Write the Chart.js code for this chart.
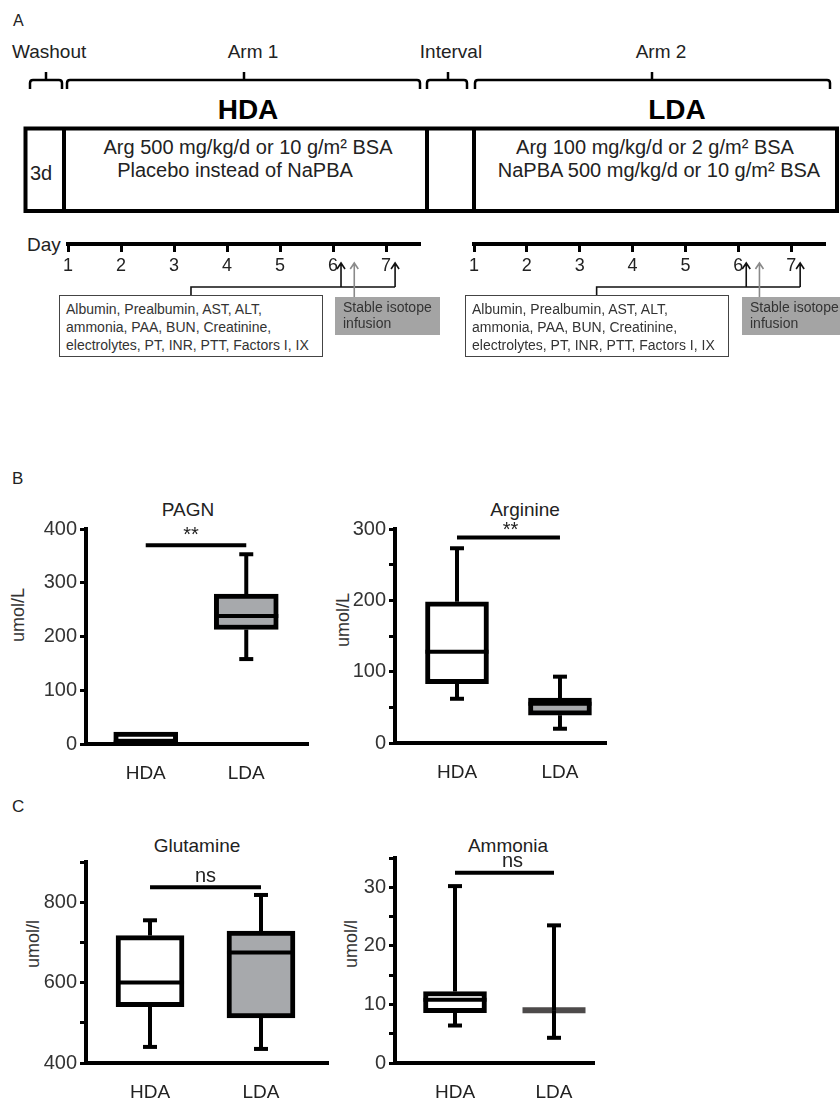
<!DOCTYPE html>
<html><head><meta charset="utf-8">
<script src="https://cdn.jsdelivr.net/npm/chart.js@4.4.1/dist/chart.umd.min.js"></script>
<style>
html,body{margin:0;padding:0;background:#fff;}
#root{position:relative;width:840px;height:1100px;overflow:hidden;font-family:"Liberation Sans",Arial,sans-serif;color:#222;}
.t{position:absolute;white-space:nowrap;line-height:1;transform:translate(-50%,-50%);}
.l{position:absolute;white-space:nowrap;line-height:1;transform:translateY(-50%);}
.rot{position:absolute;white-space:nowrap;line-height:1;transform:translate(-50%,-50%) rotate(-90deg);font-size:18px;color:#333;}
canvas{position:absolute;}
.box{position:absolute;box-sizing:border-box;border:1.5px solid #444;font-size:14px;line-height:18px;color:#333;padding:4px 0 0 6px;white-space:nowrap;background:#fff;}
.grey{position:absolute;box-sizing:border-box;background:#a4a4a4;font-size:14px;line-height:16px;color:#333;padding:2px 0 0 8px;white-space:nowrap;}
</style></head>
<body><div id="root">
<svg style="position:absolute;left:0;top:0" width="840" height="230">
  <g fill="none" stroke="#000" stroke-width="2.5">
    <path d="M30,89 L30,83 Q30,80 33,80 L59,80 Q62,80 62,83 L62,89 M46,80 L46,72"/>
    <path d="M67,89 L67,83 Q67,80 70,80 L417,80 Q420,80 420,83 L420,89 M244,80 L244,72"/>
    <path d="M427,89 L427,83 Q427,80 430,80 L464,80 Q467,80 467,83 L467,89 M448,80 L448,72"/>
    <path d="M475,89 L475,83 Q475,80 478,80 L827,80 Q830,80 830,83 L830,89 M652,80 L652,72"/>
  </g>
  <g fill="none" stroke="#000" stroke-width="4">
    <rect x="25.5" y="128.5" width="811.5" height="82.5"/>
    <line x1="64" y1="128.5" x2="64" y2="211"/>
    <line x1="427" y1="128.5" x2="427" y2="211"/>
    <line x1="474" y1="128.5" x2="474" y2="211"/>
  </g>
</svg>
<div class="l" style="left:13px;top:21px;font-size:16px;">A</div>
<div class="l" style="left:12px;top:51px;font-size:19px;">Washout</div>
<div class="t" style="left:253px;top:51px;font-size:19px;">Arm 1</div>
<div class="t" style="left:451px;top:51px;font-size:19px;">Interval</div>
<div class="t" style="left:661px;top:51px;font-size:19px;">Arm 2</div>
<div class="t" style="left:248px;top:110px;font-size:28px;font-weight:bold;color:#000;">HDA</div>
<div class="t" style="left:677px;top:110px;font-size:28px;font-weight:bold;color:#000;">LDA</div>
<div class="t" style="left:41px;top:173px;font-size:20px;">3d</div>
<div class="t" style="left:248px;top:147px;font-size:20px;">Arg 500 mg/kg/d or 10 g/m² BSA</div>
<div class="t" style="left:235px;top:170px;font-size:20px;">Placebo instead of NaPBA</div>
<div class="t" style="left:655px;top:147px;font-size:20px;">Arg 100 mg/kg/d or 2 g/m² BSA</div>
<div class="t" style="left:659px;top:170px;font-size:20px;">NaPBA 500 mg/kg/d or 10 g/m² BSA</div>
<div class="l" style="left:27px;top:244px;font-size:19px;">Day</div>

<canvas id="tl1" width="430" height="80" style="left:0;top:230px"></canvas>
<canvas id="tl2" width="430" height="80" style="left:406px;top:230px"></canvas>

<div class="box" style="left:59px;top:295px;width:264px;height:62px;">Albumin, Prealbumin, AST, ALT,<br>ammonia, PAA, BUN, Creatinine,<br>electrolytes, PT, INR, PTT, Factors I, IX</div>
<div class="grey" style="left:335px;top:297px;width:105px;height:38px;">Stable isotope<br>infusion</div>
<div class="box" style="left:465px;top:295px;width:264px;height:62px;">Albumin, Prealbumin, AST, ALT,<br>ammonia, PAA, BUN, Creatinine,<br>electrolytes, PT, INR, PTT, Factors I, IX</div>
<div class="grey" style="left:742px;top:297px;width:110px;height:38px;">Stable isotope<br>infusion</div>

<div class="l" style="left:12px;top:478px;font-size:17px;">B</div>
<div class="l" style="left:12px;top:806px;font-size:17px;">C</div>

<div class="t" style="left:188px;top:509px;font-size:19px;">PAGN</div>
<div class="t" style="left:525px;top:509px;font-size:19px;">Arginine</div>
<div class="t" style="left:197px;top:845px;font-size:19px;">Glutamine</div>
<div class="t" style="left:508px;top:845px;font-size:19px;">Ammonia</div>

<div class="rot" style="left:18px;top:615px;">umol/L</div>
<div class="rot" style="left:343px;top:620px;">umol/L</div>
<div class="rot" style="left:33px;top:944px;">umol/l</div>
<div class="rot" style="left:351px;top:944px;">umol/l</div>

<canvas id="pagn" width="330" height="300" style="left:0;top:500px"></canvas>
<canvas id="arg" width="300" height="300" style="left:325px;top:500px"></canvas>
<canvas id="gln" width="340" height="270" style="left:0;top:830px"></canvas>
<canvas id="nh3" width="290" height="270" style="left:325px;top:830px"></canvas>
</div>
<script>
// ---------- data ----------
const groups = ['HDA', 'LDA'];
const boxFills = ['#ffffff', '#a7a9ac'];

const pagnMin = [0, 158];
const pagnQ1 = [0, 213];
const pagnMedian = [3, 238];
const pagnQ3 = [22, 279];
const pagnMax = [22, 353];

const argMin = [62, 20];
const argQ1 = [83, 39];
const argMedian = [128, 55];
const argQ3 = [198, 63];
const argMax = [273, 93];

const glnMin = [440, 435];
const glnQ1 = [540, 512];
const glnMedian = [600, 675];
const glnQ3 = [717, 728];
const glnMax = [755, 818];

const nh3Min = [6.4, 4.3];
const nh3Q1 = [8.6, 9];
const nh3Median = [10.8, 9];
const nh3Q3 = [12.2, 9];
const nh3Max = [30.2, 23.5];

const studyDays = [1, 2, 3, 4, 5, 6, 7];
const sampleDays = [6.15, 7.17];
const isotopeDays = [6.4];
const labBracketFrom = 3.32;

// ---------- setup ----------
Chart.defaults.font.family = '"Liberation Sans", Arial, sans-serif';

const dayMarks = {
  id: 'dayMarks',
  afterDraw(chart, args, o) {
    const {ctx, scales: {x}, chartArea} = chart;
    const base = chartArea.bottom;
    ctx.save();
    ctx.lineWidth = 1.6;
    const arrow = (px, tip, end, col) => {
      ctx.strokeStyle = col;
      ctx.beginPath();
      ctx.moveTo(px, end); ctx.lineTo(px, tip);
      ctx.moveTo(px - 4, tip + 6); ctx.lineTo(px, tip); ctx.lineTo(px + 4, tip + 6);
      ctx.stroke();
    };
    const xl = x.getPixelForValue(o.from);
    const xr = x.getPixelForValue(Math.max(...o.black));
    ctx.strokeStyle = '#111';
    ctx.beginPath();
    ctx.moveTo(xl, base + 51); ctx.lineTo(xl, base + 43); ctx.lineTo(xr, base + 43);
    ctx.stroke();
    o.black.forEach(d => arrow(x.getPixelForValue(d), base + 19, base + 43, '#111'));
    o.grey.forEach(d => arrow(x.getPixelForValue(d), base + 19, base + 54, '#8a8a8a'));
    ctx.restore();
  }
};

function makeTimeline(id, padLeft, padRight) {
  new Chart(document.getElementById(id), {
    type: 'scatter',
    data: {datasets: []},
    options: {
      responsive: false, animation: false, events: [],
      layout: {padding: {left: padLeft, right: padRight, top: 0, bottom: 0}},
      plugins: {legend: {display: false}, tooltip: {enabled: false},
        dayMarks: {from: labBracketFrom, black: sampleDays, grey: isotopeDays}},
      scales: {
        x: {type: 'linear', min: 1, max: 7.64,
          afterBuildTicks: s => { s.ticks = studyDays.map(v => ({value: v})); },
          afterFit: s => { s.height = 66; },
          ticks: {font: {size: 18}, color: '#222', padding: 3, autoSkip: false, maxRotation: 0},
          grid: {drawOnChartArea: false, tickLength: 8, tickWidth: 3, tickColor: '#000'},
          border: {width: 4, color: '#000'}},
        y: {display: false, min: 0, max: 1}
      }
    },
    plugins: [dayMarks]
  });
}
makeTimeline('tl1', 68, 10);
makeTimeline('tl2', 68, 11);

const boxExtras = {
  id: 'boxExtras',
  afterDatasetsDraw(chart, args, o) {
    const {ctx, scales: {x, y}} = chart;
    const s = o.stats, half = o.barPx / 2, cap = 14;
    ctx.save();
    ctx.lineCap = 'butt';
    s.med.forEach((m, i) => {
      const px = x.getPixelForValue(i + 1), py = y.getPixelForValue(m);
      ctx.strokeStyle = o.medColor[i]; ctx.lineWidth = o.medWidth[i];
      ctx.beginPath(); ctx.moveTo(px - half, py); ctx.lineTo(px + half, py); ctx.stroke();
    });
    ctx.strokeStyle = '#000'; ctx.lineWidth = 4;
    s.min.forEach((mn, i) => {
      const px = x.getPixelForValue(i + 1);
      [[s.q3[i], s.max[i]], [s.q1[i], s.min[i]]].forEach(([from, to]) => {
        if (from === to) return;
        const a = y.getPixelForValue(from), b = y.getPixelForValue(to);
        ctx.beginPath(); ctx.moveTo(px, a); ctx.lineTo(px, b); ctx.stroke();
        ctx.beginPath(); ctx.moveTo(px - cap / 2, b); ctx.lineTo(px + cap / 2, b); ctx.stroke();
      });
    });
    const sy = y.getPixelForValue(o.sig.y);
    const x1 = x.getPixelForValue(1), x2 = x.getPixelForValue(2);
    ctx.beginPath(); ctx.moveTo(x1, sy); ctx.lineTo(x2, sy); ctx.stroke();
    ctx.fillStyle = '#222';
    ctx.font = '20px "Liberation Sans", Arial, sans-serif';
    ctx.textAlign = 'center'; ctx.textBaseline = 'middle';
    ctx.fillText(o.sig.label, (x1 + x2) / 2 + (o.sig.dx || 0), sy - o.sig.gap);
    ctx.restore();
  }
};

function makeBox(id, s, o) {
  new Chart(document.getElementById(id), {
    type: 'bar',
    data: {datasets: [{
      data: groups.map((g, i) => ({x: i + 1, y: [s.q1[i], s.q3[i]]})),
      backgroundColor: boxFills, borderColor: '#000', borderWidth: 5,
      borderSkipped: false, barThickness: o.barPx
    }]},
    options: {
      responsive: false, animation: false, events: [],
      layout: {padding: o.pad},
      plugins: {legend: {display: false}, tooltip: {enabled: false},
        boxExtras: {stats: s, barPx: o.barPx, medColor: o.medColor || ['#000', '#000'],
          medWidth: o.medWidth || [4, 4], sig: o.sig}},
      scales: {
        x: {type: 'linear', position: 'bottom', min: o.xMin, max: o.xMax, offset: false,
          afterBuildTicks: sc => { sc.ticks = groups.map((g, i) => ({value: i + 1})); },
          afterFit: sc => { sc.height = o.xH; },
          ticks: {callback: v => groups[v - 1], font: {size: 19}, color: '#222', padding: 18, autoSkip: false, maxRotation: 0},
          grid: {drawOnChartArea: false, drawTicks: false, offset: false},
          border: {width: 4, color: '#000'}},
        y: {min: o.yMin, max: o.yMax,
          afterFit: sc => { sc.width = o.yW; },
          ticks: {stepSize: o.step, callback: v => (v % o.labelStep === 0 ? String(v) : ''),
            font: {size: 20}, color: '#333', padding: 3, autoSkip: false},
          grid: {drawOnChartArea: false, tickLength: 6, tickWidth: 3, tickColor: '#000'},
          border: {width: 4, color: '#000'}}
      }
    },
    plugins: [boxExtras]
  });
}

makeBox('pagn', {min: pagnMin, q1: pagnQ1, med: pagnMedian, q3: pagnQ3, max: pagnMax}, {
  pad: {left: 4, top: 29, right: 22, bottom: 0}, yW: 82, xH: 56,
  xMin: 0.406, xMax: 2.614, yMin: 0, yMax: 400, step: 100, labelStep: 100, barPx: 64,
  sig: {y: 370, label: '**', gap: 10, dx: -5}
});
makeBox('arg', {min: argMin, q1: argQ1, med: argMedian, q3: argQ3, max: argMax}, {
  pad: {left: 4, top: 29, right: 19, bottom: 0}, yW: 66, xH: 57,
  xMin: 0.398, xMax: 2.447, yMin: 0, yMax: 300, step: 50, labelStep: 100, barPx: 63,
  sig: {y: 288, label: '**', gap: 7, dx: 2}
});
makeBox('gln', {min: glnMin, q1: glnQ1, med: glnMedian, q3: glnQ3, max: glnMax}, {
  pad: {left: 4, top: 32, right: 12, bottom: 0}, yW: 82, xH: 37,
  xMin: 0.423, xMax: 2.604, yMin: 400, yMax: 900, step: 100, labelStep: 200, barPx: 68,
  sig: {y: 837, label: 'ns', gap: 11, dx: 0}
});
makeBox('nh3', {min: nh3Min, q1: nh3Q1, med: nh3Median, q3: nh3Q3, max: nh3Max}, {
  pad: {left: 4, top: 28, right: 21, bottom: 0}, yW: 66, xH: 37,
  xMin: 0.394, xMax: 2.404, yMin: 0, yMax: 35, step: 5, labelStep: 10, barPx: 63,
  medColor: ['#000', '#4d4a4a'], medWidth: [4, 6],
  sig: {y: 32.5, label: 'ns', gap: 11, dx: 8}
});
</script>
</body></html>
